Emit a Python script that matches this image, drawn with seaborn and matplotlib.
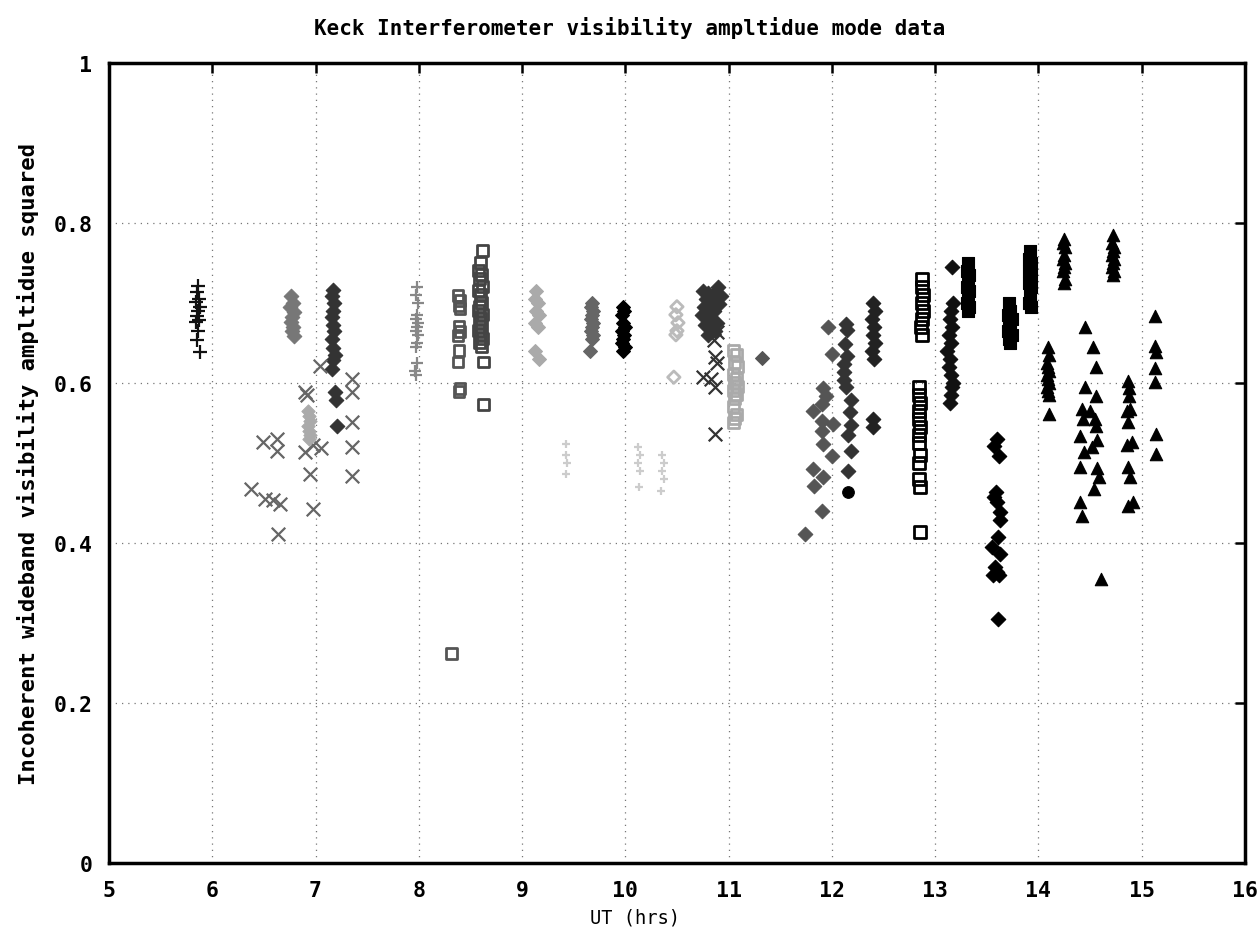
import numpy as np
import pandas as pd
import matplotlib
matplotlib.use("Agg")
import matplotlib.pyplot as plt
import seaborn as sns

# ---- data (UT hours, V^2) ----
# plus markers, black, ~5.86 h
plus_a_x = [5.86, 5.85, 5.87, 5.84, 5.88, 5.86, 5.85, 5.87, 5.84, 5.86, 5.85, 5.88]
plus_a_y = [0.721, 0.714, 0.705, 0.701, 0.695, 0.690, 0.684, 0.678, 0.676, 0.665, 0.653, 0.639]

# gray stars ~6.77 h
star_b_x = [6.76, 6.78, 6.75, 6.79, 6.77, 6.76, 6.78, 6.77, 6.79]
star_b_y = [0.708, 0.700, 0.695, 0.688, 0.682, 0.676, 0.670, 0.665, 0.658]

# dark stars ~7.17 h
star_c_x = [7.17, 7.16, 7.18, 7.17, 7.16, 7.17, 7.18, 7.16, 7.17, 7.19, 7.17, 7.16, 7.19, 7.20, 7.21]
star_c_y = [0.716, 0.708, 0.700, 0.690, 0.682, 0.672, 0.665, 0.655, 0.643, 0.635, 0.628, 0.617, 0.588, 0.578, 0.546]

# crosses 6.4 - 7.35 h
cross_d_x = [7.04, 7.35, 7.35, 6.90, 6.92, 7.35, 6.49, 6.63, 6.63, 6.90, 7.05, 6.98, 7.35,
             6.95, 7.35, 6.38, 6.51, 6.59, 6.66, 6.64, 6.98]
cross_d_y = [0.621, 0.605, 0.589, 0.589, 0.585, 0.551, 0.526, 0.530, 0.515, 0.513, 0.518, 0.522, 0.520,
             0.486, 0.484, 0.467, 0.455, 0.453, 0.449, 0.411, 0.442]

# light stars ~6.94 h
star_e_x = [6.93, 6.94, 6.95, 6.93, 6.94, 6.95, 6.94]
star_e_y = [0.565, 0.558, 0.552, 0.546, 0.540, 0.535, 0.530]

# gray plus ~7.98 h
plus_f_x = [7.98, 7.97, 7.99, 7.98, 7.97, 7.99, 7.98, 7.97, 7.99, 7.98, 7.97, 7.98, 7.96, 7.97]
plus_f_y = [0.720, 0.710, 0.700, 0.685, 0.680, 0.675, 0.670, 0.665, 0.660, 0.650, 0.645, 0.625, 0.615, 0.610]

# open squares ~8.4 h
sq_g_x = [8.38, 8.40, 8.39, 8.40, 8.39, 8.40, 8.38, 8.39, 8.38, 8.40, 8.39, 8.32]
sq_g_y = [0.709, 0.703, 0.696, 0.693, 0.670, 0.664, 0.659, 0.640, 0.626, 0.593, 0.589, 0.262]

# dense open squares ~8.6 h
sq_h_x = [8.62, 8.60, 8.58, 8.61, 8.59, 8.62, 8.58, 8.60, 8.61, 8.59, 8.58, 8.62, 8.60, 8.59,
          8.61, 8.58, 8.60, 8.62, 8.59, 8.61, 8.63, 8.63]
sq_h_y = [0.765, 0.750, 0.740, 0.735, 0.730, 0.720, 0.715, 0.710, 0.700, 0.695, 0.690, 0.685, 0.680, 0.675,
          0.670, 0.665, 0.660, 0.655, 0.650, 0.645, 0.626, 0.573]

# light stars ~9.14 h
star_i_x = [9.14, 9.13, 9.15, 9.14, 9.16, 9.13, 9.15, 9.13, 9.16]
star_i_y = [0.715, 0.705, 0.700, 0.690, 0.685, 0.675, 0.670, 0.640, 0.630]

# gray stars ~9.68 h
star_j_x = [9.68, 9.67, 9.69, 9.68, 9.67, 9.69, 9.68, 9.67, 9.69, 9.68, 9.66]
star_j_y = [0.700, 0.695, 0.690, 0.685, 0.680, 0.675, 0.670, 0.665, 0.660, 0.655, 0.640]

# black stars ~9.98 h
star_k_x = [9.98, 9.99, 9.97, 9.98, 10.00, 9.97, 9.99, 9.98, 9.97, 10.00, 9.98]
star_k_y = [0.695, 0.690, 0.685, 0.675, 0.670, 0.665, 0.660, 0.655, 0.650, 0.645, 0.640]

# light stars ~10.5 h
star_l_x = [10.50, 10.49, 10.51, 10.50, 10.49, 10.47]
star_l_y = [0.695, 0.685, 0.675, 0.665, 0.660, 0.607]

# dark stars 10.75 - 10.93 h
star_m_x = [10.75, 10.80, 10.85, 10.90, 10.78, 10.83, 10.88, 10.93, 10.76, 10.81, 10.86, 10.91,
            10.74, 10.79, 10.84, 10.89, 10.77, 10.82, 10.87, 10.80]
star_m_y = [0.715, 0.712, 0.710, 0.720, 0.705, 0.702, 0.700, 0.708, 0.695, 0.692, 0.690, 0.698,
            0.685, 0.682, 0.680, 0.675, 0.672, 0.668, 0.665, 0.660]

# dark crosses ~10.85 h
cross_n_x = [10.89, 10.86, 10.87, 10.89, 10.75, 10.83, 10.87, 10.87]
cross_n_y = [0.664, 0.654, 0.632, 0.625, 0.607, 0.605, 0.595, 0.536]

# light open squares ~11.07 h
sq_o_x = [11.05, 11.08, 11.06, 11.09, 11.05, 11.08, 11.06, 11.09, 11.05, 11.08, 11.06, 11.05, 11.08, 11.06, 11.05]
sq_o_y = [0.640, 0.635, 0.625, 0.620, 0.610, 0.605, 0.600, 0.595, 0.590, 0.585, 0.580, 0.570, 0.560, 0.555, 0.550]

# single gray star 11.32 h
star_p_x = [11.32]
star_p_y = [0.631]

# very faint points 9.4 - 10.4 h
faint_q_x = [9.43, 9.43, 9.44, 9.43, 10.12, 10.14, 10.12, 10.14, 10.13, 10.36, 10.37, 10.36, 10.37, 10.35]
faint_q_y = [0.524, 0.510, 0.500, 0.486, 0.520, 0.510, 0.500, 0.490, 0.470, 0.510, 0.500, 0.490, 0.480, 0.465]

# gray stars 11.74 - 12.01 h
star_r_x = [11.96, 12.00, 11.91, 11.94, 11.90, 11.82, 11.90, 12.01, 11.90, 11.91, 12.00, 11.82, 11.91, 11.83, 11.90, 11.74]
star_r_y = [0.670, 0.636, 0.593, 0.584, 0.574, 0.565, 0.552, 0.549, 0.540, 0.524, 0.509, 0.492, 0.482, 0.471, 0.440, 0.411]

# dark stars ~12.15 h
star_s_x = [12.14, 12.15, 12.13, 12.15, 12.12, 12.12, 12.12, 12.14, 12.19, 12.18, 12.19, 12.16, 12.19, 12.16]
star_s_y = [0.674, 0.666, 0.649, 0.634, 0.624, 0.614, 0.604, 0.595, 0.578, 0.564, 0.547, 0.535, 0.515, 0.490]

# black dot 12.16 h
dot_t_x = [12.16]
dot_t_y = [0.463]

# dark crosses ~12.4 h
cross_u_x = [12.40, 12.42, 12.39, 12.41, 12.40, 12.42, 12.39, 12.41, 12.40, 12.40]
cross_u_y = [0.700, 0.690, 0.680, 0.670, 0.660, 0.650, 0.640, 0.630, 0.555, 0.545]

# black-edged squares ~12.85 h
sq_v_x = [12.87, 12.87, 12.88, 12.87, 12.88, 12.87, 12.86, 12.87,
          12.84, 12.84, 12.85, 12.84, 12.84, 12.85, 12.84, 12.84, 12.85, 12.84, 12.84, 12.85, 12.85]
sq_v_y = [0.730, 0.720, 0.710, 0.700, 0.690, 0.680, 0.670, 0.660,
          0.595, 0.585, 0.575, 0.565, 0.555, 0.545, 0.535, 0.525, 0.510, 0.500, 0.480, 0.470, 0.414]

# black stars ~13.15 h
star_w_x = [13.16, 13.17, 13.15, 13.14, 13.16, 13.13, 13.15, 13.12, 13.14, 13.13, 13.15, 13.17, 13.16, 13.15, 13.14]
star_w_y = [0.745, 0.700, 0.690, 0.680, 0.670, 0.660, 0.650, 0.640, 0.630, 0.620, 0.610, 0.600, 0.595, 0.585, 0.575]

# black squares ~13.32 h
sq_x_x = [13.32, 13.31, 13.33, 13.32, 13.31, 13.33, 13.32, 13.31, 13.33, 13.32]
sq_x_y = [0.750, 0.740, 0.735, 0.730, 0.720, 0.715, 0.710, 0.700, 0.695, 0.690]

# black stars 13.55 - 13.63 h
star_y_x = [13.60, 13.57, 13.62, 13.59, 13.57, 13.60, 13.63, 13.63, 13.61, 13.55, 13.63, 13.58, 13.60, 13.56, 13.62, 13.61]
star_y_y = [0.530, 0.521, 0.509, 0.464, 0.457, 0.451, 0.439, 0.428, 0.407, 0.395, 0.386, 0.370, 0.364, 0.360, 0.360, 0.305]

# filled squares ~13.73 h
fsq_z_x = [13.72, 13.73, 13.71, 13.74, 13.72, 13.73, 13.71, 13.74, 13.72, 13.73]
fsq_z_y = [0.700, 0.690, 0.685, 0.680, 0.675, 0.670, 0.665, 0.660, 0.655, 0.650]

# filled squares ~13.92 h
fsq_aa_x = [13.92, 13.91, 13.93, 13.92, 13.91, 13.93, 13.92, 13.91, 13.93, 13.92, 13.91, 13.93]
fsq_aa_y = [0.765, 0.755, 0.750, 0.745, 0.740, 0.735, 0.730, 0.725, 0.720, 0.710, 0.700, 0.695]

# filled triangles 14 - 15.2 h
tri_x = [14.09, 14.10, 14.08, 14.09, 14.10, 14.08, 14.09, 14.10, 14.08, 14.09, 14.10, 14.10,
         14.25, 14.24, 14.26, 14.25, 14.24, 14.26, 14.25, 14.24, 14.26, 14.25,
         14.45, 14.53, 14.56, 14.45, 14.56, 14.42, 14.50, 14.55, 14.43, 14.56, 14.40, 14.57, 14.52, 14.44,
         14.40, 14.57, 14.59, 14.54, 14.40, 14.42, 14.61,
         14.72, 14.71, 14.73, 14.72, 14.71, 14.73, 14.72, 14.71, 14.73, 14.72,
         14.87, 14.88, 14.88, 14.89, 14.86, 14.87, 14.91, 14.86, 14.87, 14.89, 14.92, 14.87,
         15.13, 15.13, 15.14, 15.13, 15.13, 15.14, 15.14]
tri_y = [0.645, 0.635, 0.625, 0.620, 0.615, 0.610, 0.605, 0.600, 0.595, 0.590, 0.585, 0.561,
         0.780, 0.775, 0.770, 0.760, 0.755, 0.750, 0.745, 0.740, 0.730, 0.725,
         0.670, 0.645, 0.620, 0.595, 0.584, 0.567, 0.565, 0.555, 0.555, 0.546, 0.534, 0.528, 0.520, 0.514,
         0.495, 0.493, 0.482, 0.467, 0.451, 0.434, 0.355,
         0.785, 0.775, 0.770, 0.765, 0.760, 0.755, 0.750, 0.745, 0.740, 0.735,
         0.602, 0.593, 0.584, 0.567, 0.565, 0.551, 0.526, 0.522, 0.495, 0.482, 0.451, 0.446,
         0.683, 0.646, 0.638, 0.618, 0.601, 0.536, 0.511]

# (x, y, marker, colour, size, open?)
series = [
    (plus_a_x, plus_a_y, "+", "#111111", 95, False),
    (star_b_x, star_b_y, "D", "#777777", 55, False),
    (star_c_x, star_c_y, "D", "#333333", 55, False),
    (cross_d_x, cross_d_y, "x", "#666666", 95, False),
    (star_e_x, star_e_y, "D", "#aaaaaa", 45, False),
    (plus_f_x, plus_f_y, "+", "#888888", 80, False),
    (sq_g_x, sq_g_y, "s", "#555555", 60, True),
    (sq_h_x, sq_h_y, "s", "#444444", 60, True),
    (star_i_x, star_i_y, "D", "#aaaaaa", 50, False),
    (star_j_x, star_j_y, "D", "#666666", 50, False),
    (star_k_x, star_k_y, "D", "#000000", 50, False),
    (star_l_x, star_l_y, "D", "#bbbbbb", 40, True),
    (star_m_x, star_m_y, "D", "#333333", 55, False),
    (cross_n_x, cross_n_y, "x", "#333333", 95, False),
    (sq_o_x, sq_o_y, "s", "#aaaaaa", 60, True),
    (star_p_x, star_p_y, "D", "#555555", 50, False),
    (faint_q_x, faint_q_y, "+", "#cccccc", 40, False),
    (star_r_x, star_r_y, "D", "#555555", 55, False),
    (star_s_x, star_s_y, "D", "#333333", 55, False),
    (dot_t_x, dot_t_y, "o", "#000000", 70, False),
    (cross_u_x, cross_u_y, "D", "#222222", 55, False),
    (sq_v_x, sq_v_y, "s", "#000000", 75, True),
    (star_w_x, star_w_y, "D", "#111111", 55, False),
    (sq_x_x, sq_x_y, "s", "#000000", 75, False),
    (star_y_x, star_y_y, "D", "#000000", 55, False),
    (fsq_z_x, fsq_z_y, "s", "#000000", 85, False),
    (fsq_aa_x, fsq_aa_y, "s", "#000000", 85, False),
    (tri_x, tri_y, "^", "#000000", 80, False),
]

sns.set_theme(style="white")
plt.rcParams["font.family"] = ["DejaVu Sans Mono", "DejaVu Sans"]
plt.rcParams["text.color"] = "black"
plt.rcParams["axes.labelcolor"] = "black"
plt.rcParams["xtick.color"] = "black"
plt.rcParams["ytick.color"] = "black"

fig = plt.figure(figsize=(12.6, 9.37), dpi=100)
ax = fig.add_axes([0.0865, 0.078, 0.9015, 0.854])

for xs, ys, mk, col, size, hollow in series:
    if mk in ("+", "x"):
        sns.scatterplot(x=xs, y=ys, marker=mk, color=col, s=size, linewidth=1.6, ax=ax)
    elif hollow:
        sns.scatterplot(x=xs, y=ys, marker=mk, facecolor="none", edgecolor=col,
                        s=size, linewidth=2.0, ax=ax)
    else:
        sns.scatterplot(x=xs, y=ys, marker=mk, color=col, edgecolor=col,
                        s=size, linewidth=0.8, ax=ax)

ax.set_xlim(5, 16)
ax.set_ylim(0, 1)
ax.set_xticks(range(5, 17))
ax.set_yticks([0, 0.2, 0.4, 0.6, 0.8, 1])
ax.set_yticklabels(["0", "0.2", "0.4", "0.6", "0.8", "1"])
ax.grid(True, linestyle=(0, (1, 4)), color="#777777", linewidth=0.9)
ax.tick_params(direction="in", top=True, right=True, length=7, width=1.8,
               labelsize=15.5, pad=12, colors="black")
for lab in ax.get_xticklabels() + ax.get_yticklabels():
    lab.set_fontweight("bold")
for sp in ax.spines.values():
    sp.set_linewidth(2.5)
    sp.set_color("black")

fig.text(0.5, 1 - 28 / 937, "Keck Interferometer visibility ampltidue mode data",
         fontsize=15, fontweight="bold", ha="center", va="center", color="black")
fig.text(0.504, 1 - 918 / 937, "UT (hrs)", fontsize=13.5, ha="center", va="center", color="black")
ax.set_ylabel("Incoherent wideband visibility ampltidue squared",
              fontsize=16, fontweight="bold", labelpad=10, color="black")

fig.savefig("out.png", dpi=100)
